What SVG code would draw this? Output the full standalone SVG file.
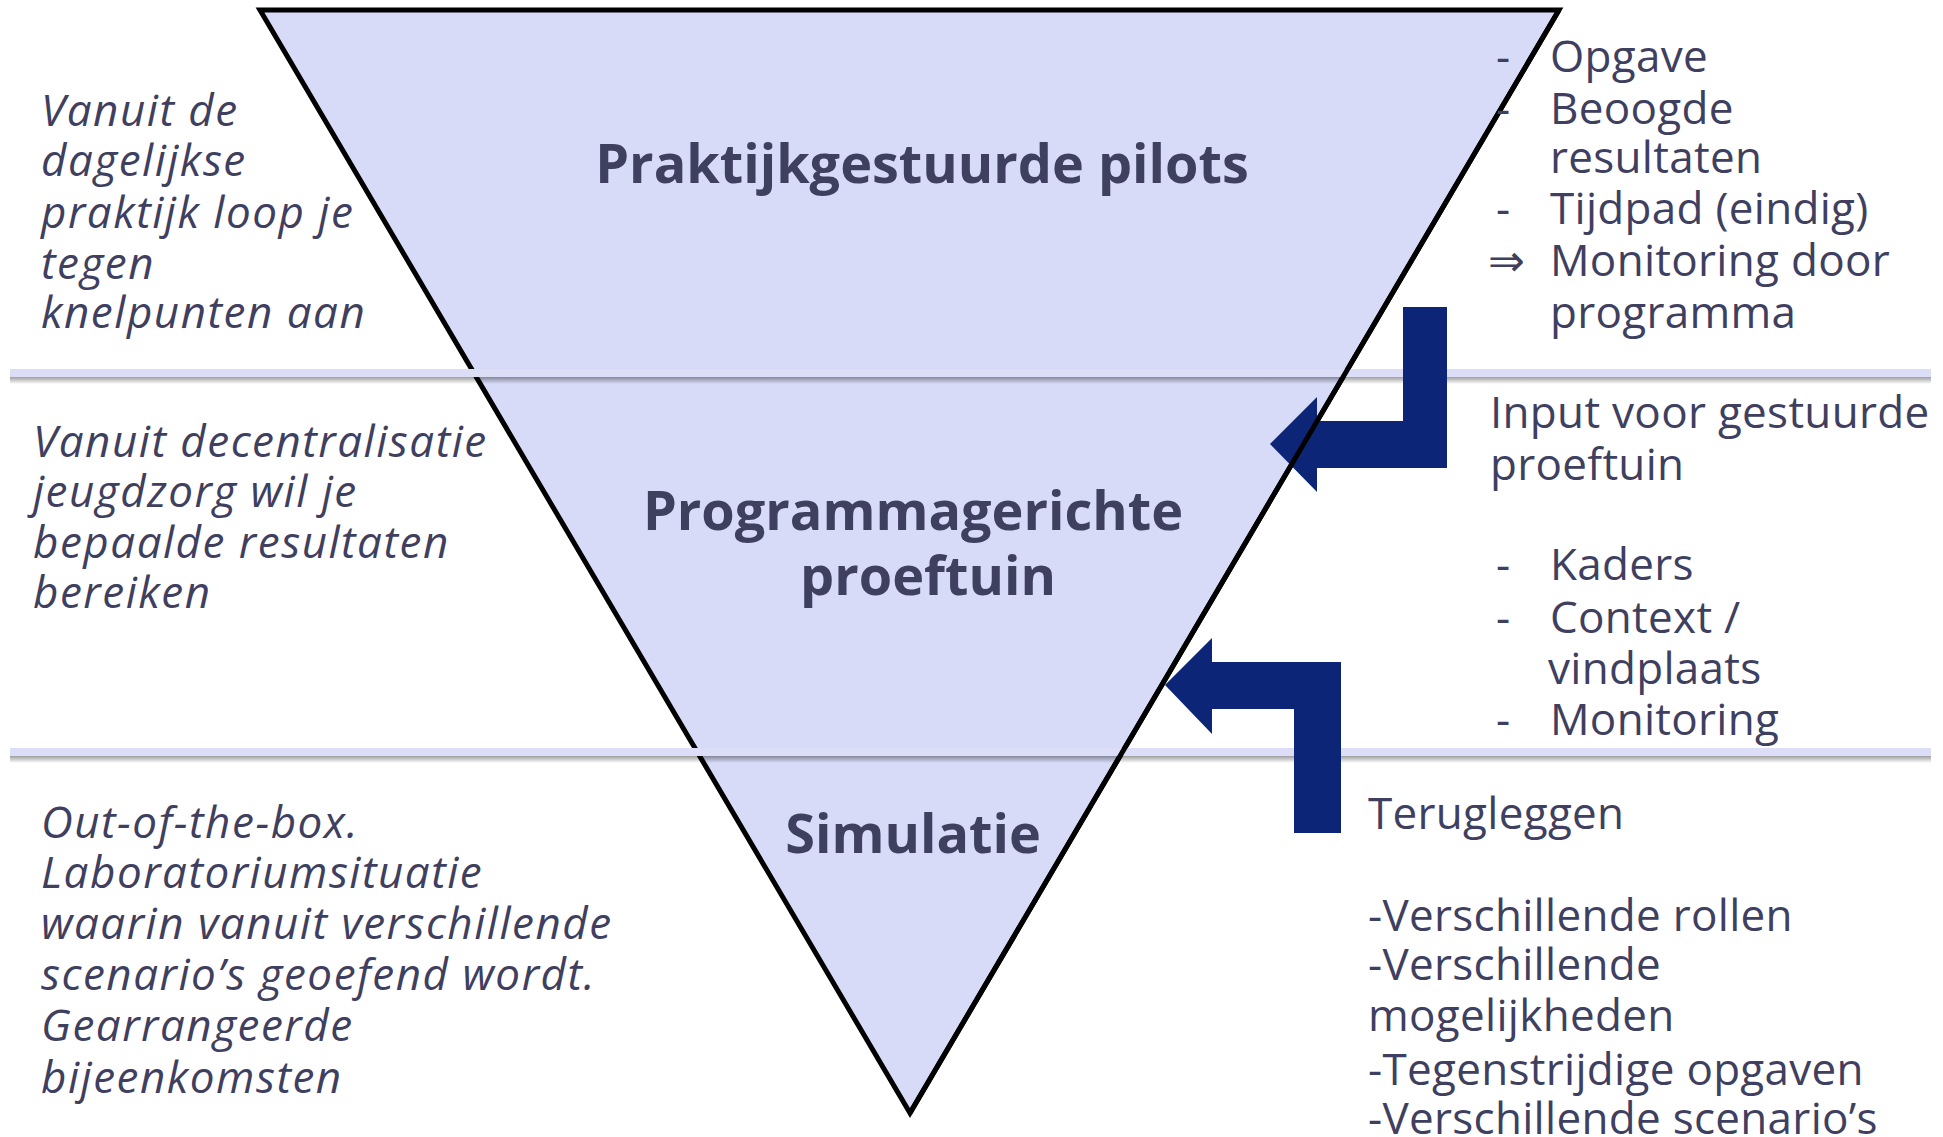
<svg xmlns="http://www.w3.org/2000/svg" width="1943" height="1137" viewBox="0 0 1943 1137">
<style>
.t{font-family:"Open Sans","Noto Sans","DejaVu Sans",sans-serif;fill:#3f3f5f;}
.title{font-size:54px;font-weight:bold;text-anchor:middle;}
.body{font-size:44px;letter-spacing:0.3px;}
.it{font-size:44px;font-style:italic;letter-spacing:1.5px;}
.arrow{fill:#0c2577;}
.sepTop{fill:#dcddf6;}
</style>
<defs>
<linearGradient id="shadow" x1="0" y1="0" x2="0" y2="1">
<stop offset="0" stop-color="#000" stop-opacity="0.38"/>
<stop offset="1" stop-color="#000" stop-opacity="0"/>
</linearGradient>
</defs>
<rect width="1943" height="1137" fill="#ffffff"/>
<g id="pyramid">
<polygon points="260,10 1559,10 910,1113" fill="#d7dbf7" stroke="#000" stroke-width="5" stroke-linejoin="miter"/>
</g>
<g id="separators">
<rect x="10" y="377" width="1921" height="7" fill="url(#shadow)"/>
<rect class="sepTop" x="10" y="369" width="1921" height="8"/>
<rect x="10" y="756" width="1921" height="7" fill="url(#shadow)"/>
<rect class="sepTop" x="10" y="748" width="1921" height="8"/>
</g>
<g id="connectors">
<path class="arrow" d="M1447,307 L1447,468 L1317,468 L1317,492 L1270,444 L1317,397 L1317,421 L1403,421 L1403,307 Z"/>
<path class="arrow" d="M1341,833 L1341,662 L1212,662 L1212,638 L1165,685 L1212,734 L1212,709 L1294,709 L1294,833 Z"/>
</g>
<g id="pyramid-edge">
<line x1="1559" y1="10" x2="910" y2="1113" stroke="#000" stroke-width="5"/>
</g>
<g id="level-pilots">
<text class="t title" x="922" y="183">Praktijkgestuurde pilots</text>
</g>
<g id="level-proeftuin">
<text class="t title" x="913" y="530">Programmagerichte</text>
<text class="t title" x="928" y="595">proeftuin</text>
</g>
<g id="level-simulatie">
<text class="t title" x="913" y="853">Simulatie</text>
</g>
<g id="left-pilots">
<text class="t it" x="41" y="126">Vanuit de</text>
<text class="t it" x="41" y="176">dagelijkse</text>
<text class="t it" x="41" y="228">praktijk loop je</text>
<text class="t it" x="41" y="279">tegen</text>
<text class="t it" x="41" y="328">knelpunten aan</text>
</g>
<g id="left-proeftuin">
<text class="t it" x="33" y="457">Vanuit decentralisatie</text>
<text class="t it" x="33" y="507">jeugdzorg wil je</text>
<text class="t it" x="33" y="558">bepaalde resultaten</text>
<text class="t it" x="33" y="608">bereiken</text>
</g>
<g id="left-simulatie">
<text class="t it" x="41" y="838">Out-of-the-box.</text>
<text class="t it" x="41" y="888">Laboratoriumsituatie</text>
<text class="t it" x="41" y="939">waarin vanuit verschillende</text>
<text class="t it" x="41" y="990">scenario’s geoefend wordt.</text>
<text class="t it" x="41" y="1041">Gearrangeerde</text>
<text class="t it" x="41" y="1093">bijeenkomsten</text>
</g>
<g id="right-pilots">
<text class="t body" x="1496" y="72">-</text>
<text class="t body" x="1550" y="72">Opgave</text>
<text class="t body" x="1496" y="124">-</text>
<text class="t body" x="1550" y="124">Beoogde</text>
<text class="t body" x="1550" y="173">resultaten</text>
<text class="t body" x="1496" y="224">-</text>
<text class="t body" x="1550" y="224">Tijdpad (eindig)</text>
<text class="t body" x="1488" y="276" style="font-family:'DejaVu Sans',sans-serif">⇒</text>
<text class="t body" x="1550" y="276">Monitoring door</text>
<text class="t body" x="1550" y="328">programma</text>
</g>
<g id="right-input">
<text class="t body" x="1490" y="428">Input voor gestuurde</text>
<text class="t body" x="1490" y="480">proeftuin</text>
<text class="t body" x="1496" y="580">-</text>
<text class="t body" x="1550" y="580">Kaders</text>
<text class="t body" x="1496" y="633">-</text>
<text class="t body" x="1550" y="633">Context /</text>
<text class="t body" x="1548" y="684">vindplaats</text>
<text class="t body" x="1496" y="735">-</text>
<text class="t body" x="1550" y="735">Monitoring</text>
</g>
<g id="right-terugleggen">
<text class="t body" x="1368" y="829">Terugleggen</text>
<text class="t body" x="1368" y="931">-Verschillende rollen</text>
<text class="t body" x="1368" y="980">-Verschillende</text>
<text class="t body" x="1368" y="1031">mogelijkheden</text>
<text class="t body" x="1368" y="1085">-Tegenstrijdige opgaven</text>
<text class="t body" x="1368" y="1134">-Verschillende scenario’s</text>
</g>
</svg>
